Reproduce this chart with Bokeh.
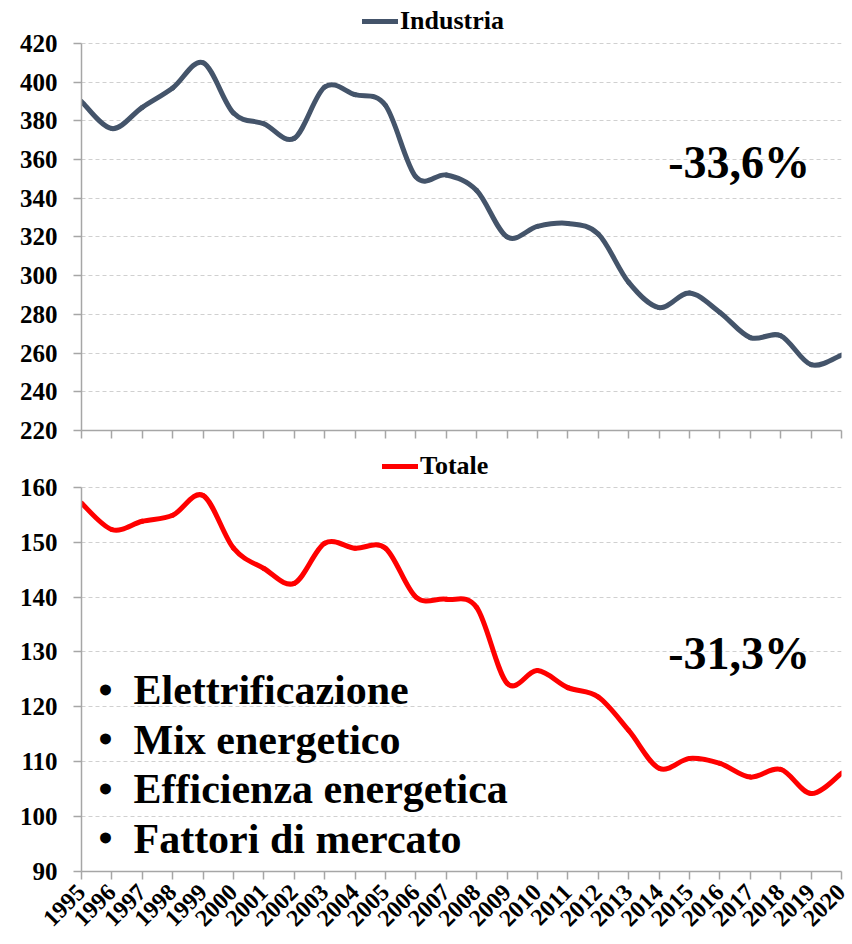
from bokeh.plotting import figure
from bokeh.layouts import column
from bokeh.models import Range1d, FixedTicker, Legend, LegendItem, Label
from bokeh.embed import file_html
from bokeh.resources import INLINE

years = list(range(1995, 2021))
industria = [390, 376, 387, 397, 410, 384, 378.5, 371, 397.5, 393.5, 388, 351,
             352, 344, 320, 325.5, 327, 321.5, 296.5, 283.5, 291, 281, 268, 269, 254, 259]
totale = [157.1, 152.3, 153.8, 154.9, 158.5, 148.9, 145.2, 142.5, 149.8, 148.9, 148.9, 140,
          139.6, 138.1, 124.3, 126.6, 123.5, 121.8, 115.7, 108.8, 110.6, 109.7, 107.2, 108.6, 104.2, 107.9]
top_ticks = [220, 240, 260, 280, 300, 320, 340, 360, 380, 400, 420]
bot_ticks = [90, 100, 110, 120, 130, 140, 150, 160]
bullets = ["Elettrificazione", "Mix energetico", "Efficienza energetica", "Fattori di mercato"]
pct_top = "-33,6%"
pct_bot = "-31,3%"

FONT = "Liberation Serif"
AXIS_COL = "#a6a6a6"
GRID_COL = "#d0d0d0"


def bezier_data(xs, ys):
    n = len(xs)
    d = dict(x0=[], y0=[], x1=[], y1=[], cx0=[], cy0=[], cx1=[], cy1=[])
    for i in range(n - 1):
        xm, ym = (xs[i - 1], ys[i - 1]) if i > 0 else (xs[i], ys[i])
        xp, yp = (xs[i + 2], ys[i + 2]) if i + 2 < n else (xs[i + 1], ys[i + 1])
        d["x0"].append(xs[i]); d["y0"].append(ys[i])
        d["x1"].append(xs[i + 1]); d["y1"].append(ys[i + 1])
        d["cx0"].append(xs[i] + (xs[i + 1] - xm) / 6.0)
        d["cy0"].append(ys[i] + (ys[i + 1] - ym) / 6.0)
        d["cx1"].append(xs[i + 1] - (xp - xs[i]) / 6.0)
        d["cy1"].append(ys[i + 1] - (yp - ys[i]) / 6.0)
    return d


def style(p, yticks, show_xlabels):
    p.xaxis.ticker = FixedTicker(ticks=years)
    p.yaxis.ticker = FixedTicker(ticks=yticks)
    p.yaxis.bounds = (yticks[0], yticks[-1])
    p.xgrid.visible = False
    p.ygrid.bounds = (yticks[0], yticks[-1])
    p.ygrid.grid_line_color = GRID_COL
    p.ygrid.grid_line_dash = "4 3"
    p.ygrid.grid_line_width = 1
    p.outline_line_color = None
    for ax in (p.xaxis[0], p.yaxis[0]):
        ax.axis_line_color = AXIS_COL
        ax.axis_line_width = 1.5
        ax.major_tick_line_color = AXIS_COL
        ax.major_tick_line_width = 1.5
        ax.major_tick_in = 0
        ax.major_tick_out = 8
        ax.minor_tick_line_color = None
        ax.major_label_text_font = FONT
        ax.major_label_text_font_style = "bold"
        ax.major_label_text_color = "black"
    p.yaxis.major_label_text_font_size = "25px"
    p.yaxis.major_label_standoff = 16
    if show_xlabels:
        p.xaxis.major_label_text_font_size = "24px"
        p.xaxis.major_label_orientation = 0.785398
        p.xaxis.major_label_standoff = 9
    else:
        p.xaxis.major_label_overrides = {yr: "" for yr in years}
        p.xaxis.major_label_standoff = 0


def make_legend(p, r, label, loc):
    leg = Legend(items=[LegendItem(label=label, renderers=[r])], location=loc,
                 orientation="horizontal", border_line_alpha=0, background_fill_alpha=0,
                 padding=0, margin=0, glyph_width=36, glyph_height=20, label_standoff=2,
                 label_text_font=FONT, label_text_font_style="bold",
                 label_text_font_size="26px", label_text_color="black")
    p.add_layout(leg, "center")


# Top panel (frame extends above 420 to host the legend)
p1 = figure(width=852, height=445, output_backend="svg", toolbar_location=None,
            x_range=Range1d(1995, 2020), y_range=Range1d(220, 439.6),
            min_border_left=81, min_border_right=11, min_border_top=5, min_border_bottom=15)
style(p1, top_ticks, False)
r1 = p1.bezier(source=bezier_data(years, industria), x0="x0", y0="y0", x1="x1", y1="y1",
               cx0="cx0", cy0="cy0", cx1="cx1", cy1="cy1",
               line_color="#44546A", line_width=5, line_cap="round")
make_legend(p1, r1, "Industria", (281, 394))
p1.add_layout(Label(x=2014.3, y=358.5, text=pct_top, text_font=FONT, text_font_style="bold",
                    text_font_size="46px", text_color="black", text_baseline="alphabetic"))

# Bottom panel
p2 = figure(width=852, height=491, output_backend="svg", toolbar_location=None,
            x_range=Range1d(1995, 2020), y_range=Range1d(90, 166.7),
            min_border_left=81, min_border_right=4, min_border_top=5, min_border_bottom=65)
style(p2, bot_ticks, True)
r2 = p2.bezier(source=bezier_data(years, totale), x0="x0", y0="y0", x1="x1", y1="y1",
               cx0="cx0", cy0="cy0", cx1="cx1", cy1="cy1",
               line_color="#FF0000", line_width=5, line_cap="round")
make_legend(p2, r2, "Totale", (301, 390))
p2.add_layout(Label(x=2014.3, y=129.7, text=pct_bot, text_font=FONT, text_font_style="bold",
                    text_font_size="46px", text_color="black", text_baseline="alphabetic"))

bullet_y = [123.0, 114.0, 105.0, 96.0]
for txt, yy in zip(bullets, bullet_y):
    p2.add_layout(Label(x=1995.56, y=yy, text="\u2022", text_font=FONT, text_font_style="bold",
                        text_font_size="40px", text_color="black", text_baseline="alphabetic"))
    p2.add_layout(Label(x=1996.71, y=yy, text=txt, text_font=FONT, text_font_style="bold",
                        text_font_size="42px", text_color="black", text_baseline="alphabetic"))

layout = column(p1, p2, spacing=0)
open("out.html", "w").write(file_html(layout, INLINE))
